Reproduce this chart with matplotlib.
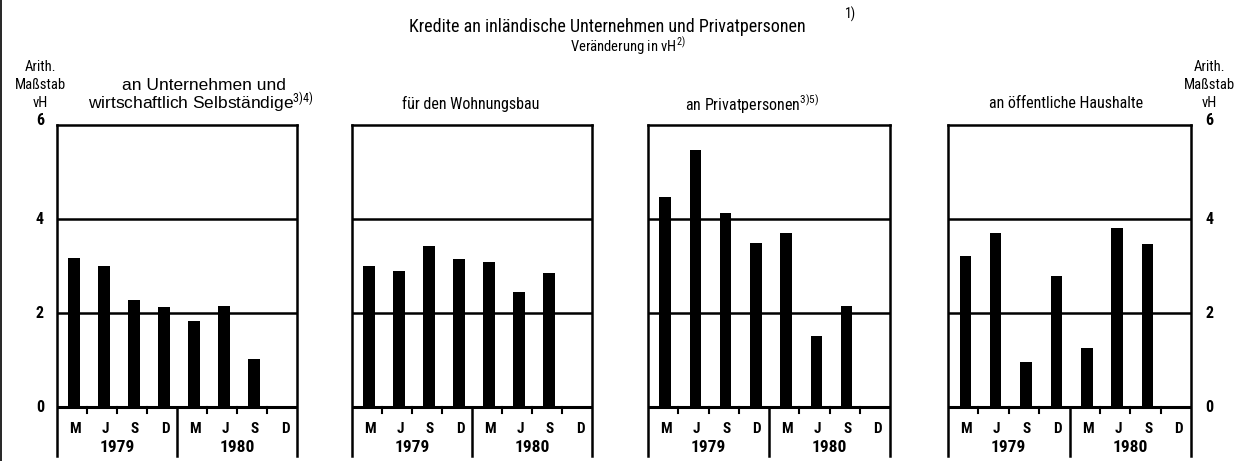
import numpy as np
import matplotlib
matplotlib.use('Agg')
import matplotlib.pyplot as plt
from matplotlib import font_manager
from matplotlib.lines import Line2D

# schmale Grotesk suchen, sonst DejaVu Sans
narrow = None
names = {f.name for f in font_manager.fontManager.ttflist}
for cand in ['Liberation Sans Narrow', 'Roboto Condensed', 'Open Sans Condensed',
             'DejaVu Sans Condensed', 'Noto Sans Condensed']:
    if cand in names:
        narrow = cand
        break
if narrow is None:
    narrow = 'DejaVu Sans'
    if any(f.name == 'DejaVu Sans' and 'condensed' in str(f.stretch)
           for f in font_manager.fontManager.ttflist):
        plt.rcParams['font.stretch'] = 'condensed'
wide = 'Liberation Sans' if 'Liberation Sans' in names else 'DejaVu Sans'

plt.rcParams['font.family'] = [narrow, 'DejaVu Sans']
plt.rcParams['mathtext.fontset'] = 'custom'
plt.rcParams['mathtext.rm'] = narrow
plt.rcParams['mathtext.it'] = narrow

# Veränderung in vH, Quartale 1979 / 1980 (Dez. 1980 noch offen)
months = ['M', 'J', 'S', 'D', 'M', 'J', 'S', 'D']
years = ['1979', '1980']
unternehmen = [3.18, 3.01, 2.27, 2.12, 1.83, 2.15, 1.03, np.nan]
wohnungsbau = [3.01, 2.89, 3.42, 3.16, 3.09, 2.45, 2.86, np.nan]
privat = [4.46, 5.46, 4.13, 3.50, 3.71, 1.52, 2.16, np.nan]
oeffentlich = [3.21, 3.71, 0.95, 2.79, 1.25, 3.80, 3.46, np.nan]
series = [unternehmen, wohnungsbau, privat, oeffentlich]

W, H = 1245, 461
fig = plt.figure(figsize=(W / 100, H / 100), dpi=100)

def fx(px):
    return px / W

def fy(py):
    return 1 - py / H

# Feldgrenzen in Pixeln
panel_x = [(57, 297), (352, 592), (648, 890), (948, 1191)]
y_top, y_bot = 125, 456
ymin, ymax = -1.04, 6

lw = 1.8
for (x0, x1), vals in zip(panel_x, series):
    ax = fig.add_axes([fx(x0), fy(y_bot), (x1 - x0) / W, (y_bot - y_top) / H])
    ax.set_xlim(-0.5, 7.5)
    ax.set_ylim(ymin, ymax)
    ax.set_xticks([])
    ax.set_yticks([])
    ax.spines['bottom'].set_visible(False)
    for s in ['top', 'left', 'right']:
        ax.spines[s].set_linewidth(lw)

    x = np.arange(len(months))
    ax.bar(x + 0.07, vals, width=0.38, color='black', zorder=3)

    for g in (2, 4):
        ax.axhline(g, color='black', lw=lw, zorder=2)
    ax.axhline(0, color='black', lw=2.2, zorder=4)

    # Trennlinie zwischen den Jahren und kleine Teilstriche
    ax.plot([3.5, 3.5], [ymin, 0], color='black', lw=lw, clip_on=False)
    for b in (0.5, 1.5, 2.5, 4.5, 5.5, 6.5):
        ax.plot([b, b], [0, -0.13], color='black', lw=1.5)

    for i, m in enumerate(months):
        ax.text(i + 0.1, -0.47, m, ha='center', va='center',
                fontsize=11, fontweight='bold')
    for j, yr in enumerate(years):
        ax.text(1.5 + 4 * j, -0.85, yr, ha='center', va='center',
                fontsize=12.5, fontweight='bold')

# Überschriften der Teilbilder
fig.text(fx(204), fy(85), 'an Unternehmen und', ha='center', va='center',
         fontsize=12.5, family=[wide, 'DejaVu Sans'])
fig.text(fx(201), fy(103), 'wirtschaftlich Selbständige$^{3)4)}$', ha='center',
         va='center', fontsize=12.5, family=[wide, 'DejaVu Sans'])
fig.text(fx(471), fy(104), 'für den Wohnungsbau', ha='center', va='center',
         fontsize=11.5)
fig.text(fx(752), fy(104), 'an Privatpersonen$^{3)5)}$', ha='center',
         va='center', fontsize=11.5)
fig.text(fx(1066), fy(104), 'an öffentliche Haushalte', ha='center',
         va='center', fontsize=11.5)

# Skalenbeschriftung links und rechts
def y_px(v):
    return y_top + (ymax - v) * (y_bot - y_top) / (ymax - ymin)

for xc in (40, 1209):
    for txt, yy in (('Arith.', 67), ('Maßstab', 85), ('vH', 103)):
        fig.text(fx(xc), fy(yy), txt, ha='center', va='center', fontsize=10.5)
    for v in (6, 4, 2, 0):
        yy = 120 if v == 6 else y_px(v)
        fig.text(fx(xc), fy(yy), str(v), ha='center', va='center',
                 fontsize=11.5, fontweight='bold')

fig.text(fx(607), fy(27), 'Kredite an inländische Unternehmen und Privatpersonen',
         ha='center', va='center', fontsize=13)
fig.text(fx(851), fy(14), '1)', ha='center', va='center', fontsize=10)
fig.text(fx(628), fy(47), 'Veränderung in vH$^{2)}$',
         ha='center', va='center', fontsize=10.5)

# Rand links
fig.add_artist(Line2D([0.001, 0.001], [0, 1], color='black', lw=1.2,
                      transform=fig.transFigure))

fig.savefig('out.png', dpi=100, facecolor='white')
